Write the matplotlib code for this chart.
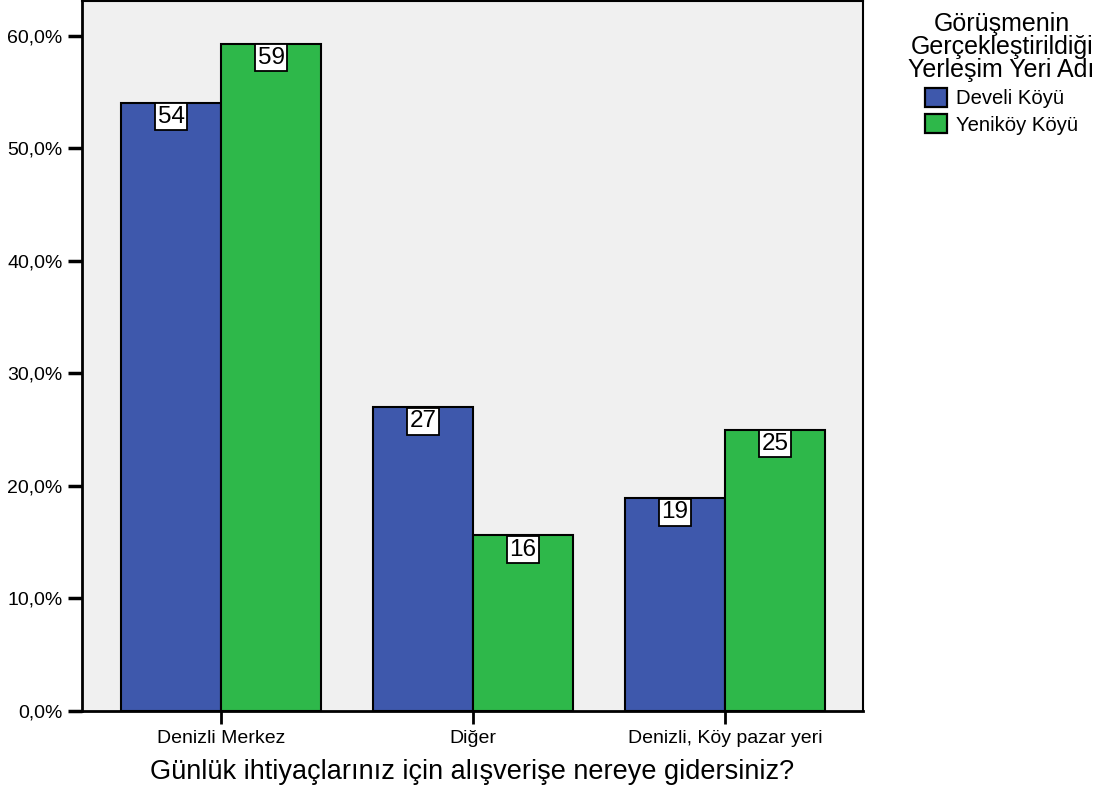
import numpy as np
import matplotlib
matplotlib.use("Agg")
import matplotlib.pyplot as plt
from matplotlib.ticker import FuncFormatter

plt.rcParams["font.family"] = ["Liberation Sans", "DejaVu Sans"]

# Data
categories = ["Denizli Merkez", "Diğer", "Denizli, Köy pazar yeri"]
series_names = ["Develi Köyü", "Yeniköy Köyü"]
develi = [54.05, 27.0, 18.9]
yenikoy = [59.3, 15.6, 25.0]
colors = ["#3E58AC", "#2EB84A"]

fig = plt.figure(figsize=(11.02, 7.85), dpi=100)
ax = fig.add_axes([0.0744, 0.0943, 0.7087, 0.9044])
ax.set_facecolor("#F0F0F0")

x = np.arange(len(categories))
width = 0.397

for i, (vals, name) in enumerate(zip([develi, yenikoy], series_names)):
    pos = x + (i - 0.5) * width
    bars = ax.bar(pos, vals, width, color=colors[i], edgecolor="black",
                  linewidth=1.5, label=name, zorder=2)
    for b, v in zip(bars, vals):
        # value label in a white box hanging from the bar top
        ax.annotate(f"{round(v):d}", (b.get_x() + b.get_width() / 2, v),
                    xytext=(0, -2.2), textcoords="offset points",
                    ha="center", va="top", fontsize=17.5, zorder=3,
                    bbox=dict(boxstyle="square,pad=0.1", fc="white",
                              ec="black", lw=1.3))

ax.set_xlim(-0.552, 2.548)
ax.set_ylim(0, 63.1)
ax.set_yticks(np.arange(0, 61, 10))
ax.yaxis.set_major_formatter(FuncFormatter(lambda v, p: f"{v:.1f}%".replace(".", ",")))
ax.set_xticks(x)
ax.set_xticklabels(categories, fontsize=14)
ax.tick_params(axis="y", labelsize=14, length=10, width=2.5, direction="out", pad=4)
ax.tick_params(axis="x", length=9, width=2, direction="out", pad=5)

for s in ax.spines.values():
    s.set_linewidth(1.5)
ax.spines["left"].set_linewidth(2)
ax.spines["bottom"].set_linewidth(2)

ax.set_xlabel("Günlük ihtiyaçlarınız için alışverişe nereye gidersiniz?",
              fontsize=19.5, labelpad=8)

leg = ax.legend(title="Görüşmenin\nGerçekleştirildiği\nYerleşim Yeri Adı",
                loc="upper left", bbox_to_anchor=(1.04, 1.005), frameon=False,
                fontsize=14.6, title_fontsize=18, handlelength=1.05,
                handleheight=1.05, handletextpad=0.45, labelspacing=0.3,
                borderaxespad=0.3)
leg.get_title().set_multialignment("center")
leg.get_title().set_linespacing(0.95)
for p in leg.get_patches():
    p.set_linewidth(1.6)

fig.savefig("out.png", dpi=100)
